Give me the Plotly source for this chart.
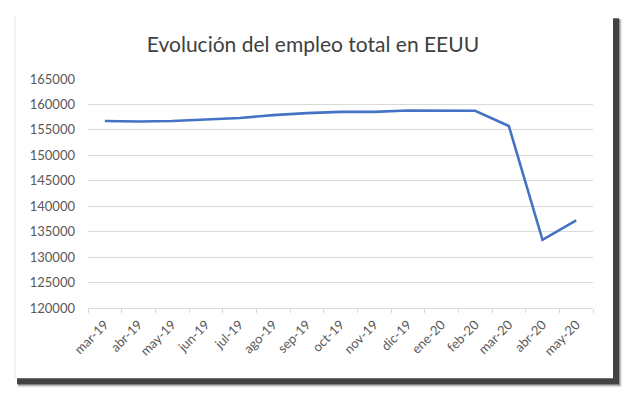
import plotly.graph_objects as go

meses = ["mar-19", "abr-19", "may-19", "jun-19", "jul-19", "ago-19", "sep-19",
         "oct-19", "nov-19", "dic-19", "ene-20", "feb-20", "mar-20", "abr-20", "may-20"]
empleo = [156748, 156645, 156758, 157005, 157346, 157895, 158298,
          158544, 158536, 158803, 158714, 158759, 155772, 133403, 137242]
y_ticks = [120000, 125000, 130000, 135000, 140000, 145000, 150000, 155000, 160000, 165000]

# page body has an 8px margin; work in window pixels and shift
OFF = 8
W, H = 630 - OFF, 395 - OFF
L, R, T, B = 88 - OFF, 37, 79 - OFF, 86.5
PW, PH = W - L - R, H - T - B


def px(x):
    return (x - OFF - L) / PW


def py(y):
    return (H - B - (y - OFF)) / PH


fig = go.Figure()
fig.add_trace(go.Scatter(
    x=meses, y=empleo, mode="lines",
    line=dict(color="#4472C4", width=2.6),
    hoverinfo="x+y", showlegend=False,
))

shapes = []
# soft outer shadow
for (dx, op) in [(9, 0.10), (8, 0.18), (7, 0.3)]:
    shapes.append(dict(type="rect", xref="paper", yref="paper", layer="below",
                       x0=px(18), x1=px(613 + dx), y0=py(379 + dx), y1=py(19),
                       fillcolor="#222222", opacity=op, line=dict(width=0)))
shapes.append(dict(type="rect", xref="paper", yref="paper", layer="below",
                   x0=px(17), x1=px(619), y0=py(385), y1=py(18),
                   fillcolor="#3a3a3a", opacity=0.9, line=dict(width=0)))
# card
shapes.append(dict(type="rect", xref="paper", yref="paper", layer="below",
                   x0=px(15), x1=px(613), y0=py(379), y1=py(15),
                   fillcolor="white", line=dict(width=0)))
shapes.append(dict(type="line", xref="paper", yref="paper", layer="below",
                   x0=px(15), x1=px(15), y0=py(379), y1=py(15),
                   line=dict(color="#e6e6e6", width=1)))
fig.update_layout(shapes=shapes)

fig.update_layout(
    width=W, height=H,
    margin=dict(l=L, r=R, t=T, b=B, pad=0, autoexpand=False),
    paper_bgcolor="white", plot_bgcolor="rgba(0,0,0,0)",
    title=dict(text="Evolución del empleo total en EEUU", x=(313 - OFF) / W, xanchor="center",
               y=1 - (45 - OFF) / H, yanchor="middle",
               font=dict(family="Lato", size=21, color="#404040")),
    font=dict(family="Lato", size=12, color="#595959"),
    xaxis=dict(type="category", tickangle=-45, showgrid=False, automargin=False,
               showline=True, linecolor="#d9d9d9", linewidth=1,
               ticks="outside", ticklen=4, tickcolor="#d9d9d9", tickson="boundaries",
               ticklabelstandoff=3,
               tickfont=dict(family="Lato", size=13, color="#595959"),
               range=[-0.5, len(meses) - 0.5], fixedrange=True),
    yaxis=dict(range=[120000, 165000], tickvals=y_ticks, ticktext=[str(v) for v in y_ticks],
               showgrid=True, gridcolor="#d9d9d9", gridwidth=1, zeroline=False,
               showline=False, ticks="", ticklabelstandoff=12, automargin=False,
               tickfont=dict(family="Lato", size=13, color="#595959"), fixedrange=True),
)

fig.write_html("out.html")
